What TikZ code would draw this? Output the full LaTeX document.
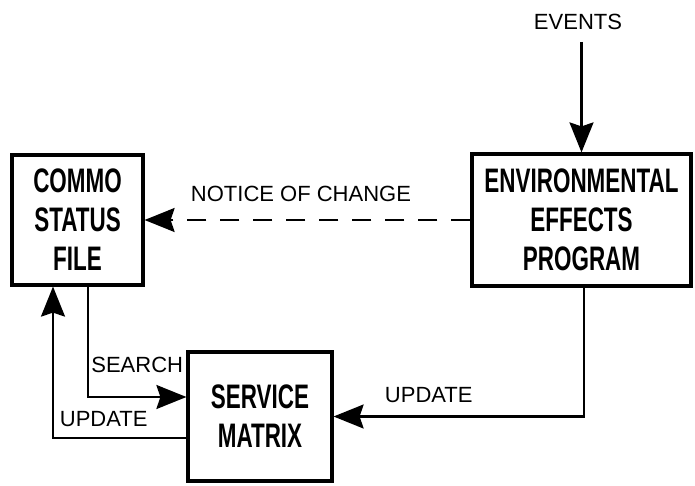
\documentclass[tikz,border=0pt]{standalone}
\usepackage{fontspec}
\setmainfont{Liberation Sans}
\newfontfamily\boxfont[FakeStretch=0.66]{Liberation Sans}
\usetikzlibrary{arrows.meta}

\begin{document}
\begin{tikzpicture}[x=1pt,y=-1pt]

\tikzstyle{block}=[draw,line width=3.2pt,align=center,inner sep=0pt,font=\boxfont\bfseries\fontsize{34}{39}\selectfont]
\tikzstyle{flow}=[draw,line width=2.2pt,-{Stealth[length=30pt,width=24pt,inset=4pt]}]
\tikzstyle{notice}=[flow,dash pattern=on 19pt off 14pt]
\tikzstyle{lbl}=[font=\fontsize{22}{26}\selectfont,inner sep=0pt]

\useasboundingbox (0,0) rectangle (695,486);

\node[block,minimum width=131pt,minimum height=130pt] (commo) at (77.5,220) {COMMO\\STATUS\\FILE};
\node[block,minimum width=219pt,minimum height=132pt] (env) at (581.5,220) {ENVIRONMENTAL\\EFFECTS\\PROGRAM};
\node[block,minimum width=144pt,minimum height=129pt] (matrix) at (260,416.5) {SERVICE\\MATRIX};

\node[lbl] (events) at (578,22) {EVENTS};

\path[flow,shorten <=12pt] (events.south -| env.north) -- (env.north);
\path[notice] (env.west) -- node[lbl,above=17pt,pos=0.52] (noticetxt) {NOTICE OF CHANGE} (env.west -| commo.east);
\path[flow] ([xshift=10.5pt]commo.south) |- node[lbl,above=23pt,pos=0.75] (searchtxt) {SEARCH} ([yshift=19.5pt]matrix.west);
\path[flow] ([yshift=-21.5pt]matrix.west) -| node[lbl,above=10pt,pos=0.31] (updleft) {UPDATE} ([xshift=-24.5pt]commo.south);
\path[flow] ([xshift=2.5pt]env.south) |- node[lbl,above=13pt,pos=0.81] (updright) {UPDATE} (matrix.east);

\end{tikzpicture}
\end{document}
